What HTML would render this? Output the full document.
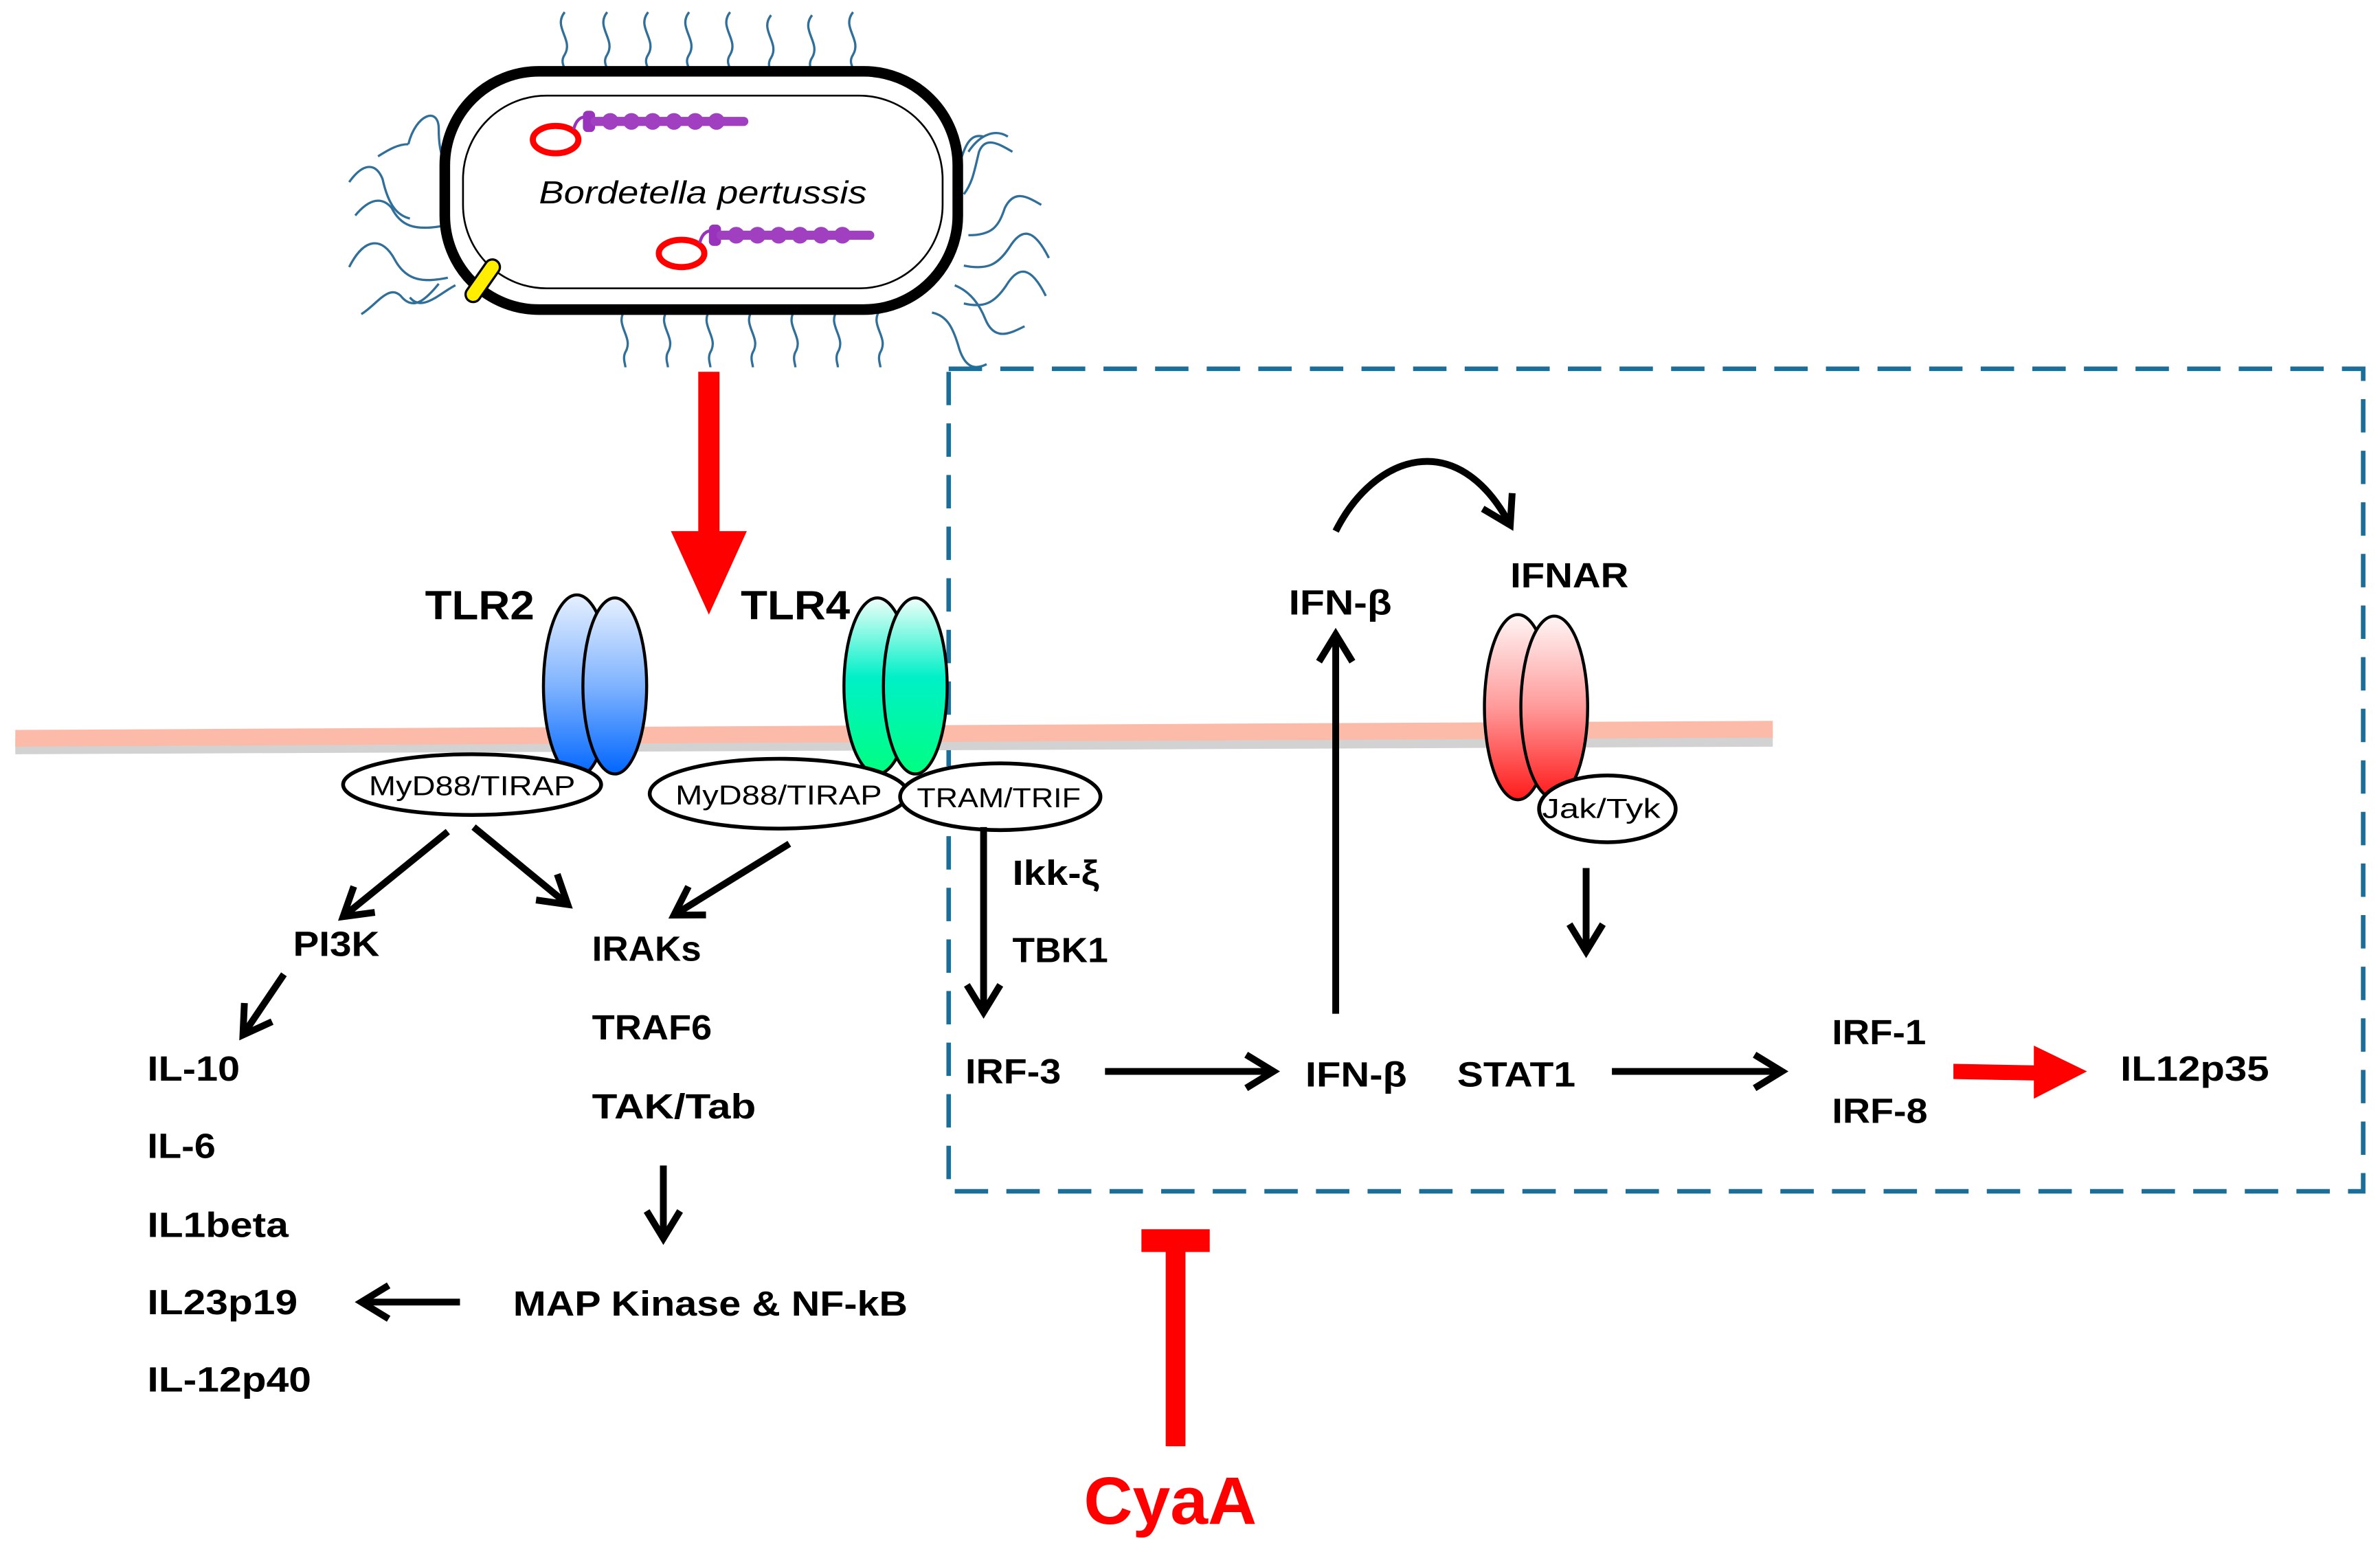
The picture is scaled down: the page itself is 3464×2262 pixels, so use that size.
<!DOCTYPE html>
<html><head><meta charset="utf-8"><style>
html,body{margin:0;padding:0;background:#fff;}
svg{display:block;}
text{font-family:"Liberation Sans",sans-serif;font-weight:bold;fill:#000;}
</style></head><body>
<svg width="3464" height="2262" viewBox="0 0 1568 1024" xmlns="http://www.w3.org/2000/svg">
<defs>
<linearGradient id="gb" x1="0" y1="0" x2="0" y2="1"><stop offset="0" stop-color="#e6f0ff"/><stop offset="0.5" stop-color="#7fb3ff"/><stop offset="1" stop-color="#0066ff"/></linearGradient>
<linearGradient id="gg" x1="0" y1="0" x2="0" y2="1"><stop offset="0" stop-color="#f0fffa"/><stop offset="0.45" stop-color="#00f0c8"/><stop offset="1" stop-color="#00ff80"/></linearGradient>
<linearGradient id="gr" x1="0" y1="0" x2="0" y2="1"><stop offset="0" stop-color="#fff5f5"/><stop offset="0.5" stop-color="#ff9a9a"/><stop offset="1" stop-color="#ff1a1a"/></linearGradient>
<marker id="ah" viewBox="0 0 20 20" refX="16" refY="10" markerWidth="20" markerHeight="20" markerUnits="userSpaceOnUse" orient="auto" overflow="visible">
<polyline points="-2,-1 16,10 -2,21" fill="none" stroke="#000" stroke-width="4.5"/>
</marker>
</defs>

<!-- flagella -->
<g fill="none" stroke="#2f6f9a" stroke-width="1.5">
<path d="M372 8 c-8 10 6 18 0 28 c-4 6 2 10 0 12"/>
<path d="M400 8 c-8 10 6 18 0 28 c-4 6 2 10 0 12"/>
<path d="M427 8 c-8 10 6 18 0 28 c-4 6 2 10 0 12"/>
<path d="M454 8 c-8 10 6 18 0 28 c-4 6 2 10 0 12"/>
<path d="M481 8 c-8 10 6 18 0 28 c-4 6 2 10 0 12"/>
<path d="M508 10 c-8 10 6 18 0 28 c-4 6 2 10 0 10"/>
<path d="M535 10 c-8 10 6 18 0 28 c-4 6 2 10 0 10"/>
<path d="M562 8 c-8 10 6 18 0 28 c-4 6 2 10 0 12"/>
<path d="M412 204 c-8 10 6 18 0 28 c-2 4 0 8 0 10"/>
<path d="M440 204 c-8 10 6 18 0 28 c-2 4 0 8 0 10"/>
<path d="M468 204 c-8 10 6 18 0 28 c-2 4 0 8 0 10"/>
<path d="M496 204 c-8 10 6 18 0 28 c-2 4 0 8 0 10"/>
<path d="M524 204 c-8 10 6 18 0 28 c-2 4 0 8 0 10"/>
<path d="M552 204 c-8 10 6 18 0 28 c-2 4 0 8 0 10"/>
<path d="M580 204 c-8 10 6 18 0 28 c-2 4 0 8 0 10"/>
<path d="M269 95 c5 -20 20 -25 20 -10 c0 20 5 25 12 32 M269 95 c-8 0 -15 5 -20 8" />
<path d="M234 142 c10 -12 18 -12 24 -5 c6 12 15 15 33 12"/>
<path d="M230 176 c10 -20 22 -20 30 -5 c8 15 20 15 35 12"/>
<path d="M230 120 c10 -14 18 -12 22 -2 c4 18 10 24 18 26"/>
<path d="M238 207 c10 -6 18 -20 26 -12 c8 10 16 3 25 -8"/>
<path d="M300 188 c-10 5 -22 18 -30 8"/>
<path d="M638 100 c8 -12 18 -15 26 -10 M630 118 c5 -25 10 -30 18 -28"/>
<path d="M667 100 c-10 -6 -18 -10 -22 0 c-3 12 -4 20 -10 28"/>
<path d="M686 135 c-10 -6 -18 -10 -24 2 c-4 12 -8 18 -24 18"/>
<path d="M691 170 c-10 -20 -18 -20 -26 -7 c-8 12 -15 15 -30 12"/>
<path d="M689 195 c-10 -20 -18 -20 -26 -7 c-8 12 -15 15 -28 12"/>
<path d="M675 215 c-10 5 -20 10 -26 -5 c-4 -10 -10 -18 -20 -22"/>
<path d="M650 240 c-8 4 -14 2 -18 -10 c-4 -14 -8 -22 -18 -24"/>
</g>

<!-- bacterium body -->
<rect x="293" y="47" width="338" height="157" rx="62" ry="62" fill="#fff" stroke="#000" stroke-width="7"/>
<rect x="305" y="63" width="316" height="127" rx="55" ry="55" fill="none" stroke="#000" stroke-width="1.2"/>
<g transform="rotate(-55 318 185)"><rect x="302" y="180" width="32" height="10" rx="5" fill="#ffee00" stroke="#000" stroke-width="1.5"/></g>
<!-- toxins -->
<g>
<ellipse cx="366" cy="92" rx="15" ry="9" fill="#fff" stroke="#f00" stroke-width="4"/>
<path d="M378 85 q2 -8 8 -8" fill="none" stroke="#9933bb" stroke-width="2"/>
<rect x="384" y="73" width="8" height="14" rx="3" fill="#9933bb"/>
<path d="M392 80 h98" stroke="#a040c0" stroke-width="6" stroke-linecap="round"/>
<g fill="#a040c0"><circle cx="402" cy="80" r="5.5"/><circle cx="416" cy="80" r="5.5"/><circle cx="430" cy="80" r="5.5"/><circle cx="444" cy="80" r="5.5"/><circle cx="458" cy="80" r="5.5"/><circle cx="472" cy="80" r="5.5"/></g>
<ellipse cx="449" cy="167" rx="15" ry="9" fill="#fff" stroke="#f00" stroke-width="4"/>
<path d="M461 160 q2 -8 8 -8" fill="none" stroke="#9933bb" stroke-width="2"/>
<rect x="467" y="148" width="8" height="14" rx="3" fill="#9933bb"/>
<path d="M475 155 h98" stroke="#a040c0" stroke-width="6" stroke-linecap="round"/>
<g fill="#a040c0"><circle cx="485" cy="155" r="5.5"/><circle cx="499" cy="155" r="5.5"/><circle cx="513" cy="155" r="5.5"/><circle cx="527" cy="155" r="5.5"/><circle cx="541" cy="155" r="5.5"/><circle cx="555" cy="155" r="5.5"/></g>
</g>
<text x="463" y="134" text-anchor="middle" font-size="21" style="font-weight:normal;font-style:italic" textLength="216" lengthAdjust="spacingAndGlyphs">Bordetella pertussis</text>

<!-- red arrow down -->
<rect x="460" y="245" width="14" height="110" fill="#f00"/>
<polygon points="442,350 492,350 467,405" fill="#f00"/>

<!-- dashed box -->
<rect x="625" y="243" width="932" height="542" fill="none" stroke="#1a6e9a" stroke-width="3" stroke-dasharray="22 12"/>

<!-- membrane -->
<polygon points="10,487 1168,482 1168,492 10,497" fill="#d2d2d2"/>
<polygon points="10,481 1168,475 1168,486 10,492" fill="#fbbba8"/>

<!-- receptors -->
<ellipse cx="380" cy="452" rx="22" ry="60" fill="url(#gb)" stroke="#000" stroke-width="2"/>
<ellipse cx="405" cy="452" rx="21" ry="58" fill="url(#gb)" stroke="#000" stroke-width="2"/>
<ellipse cx="578" cy="452" rx="22" ry="58" fill="url(#gg)" stroke="#000" stroke-width="2"/>
<ellipse cx="603" cy="452" rx="21" ry="58" fill="url(#gg)" stroke="#000" stroke-width="2"/>
<ellipse cx="1000" cy="466" rx="22" ry="61" fill="url(#gr)" stroke="#000" stroke-width="2"/>
<ellipse cx="1024" cy="466" rx="22" ry="60" fill="url(#gr)" stroke="#000" stroke-width="2"/>

<text x="280" y="408" font-size="27" textLength="72" lengthAdjust="spacingAndGlyphs">TLR2</text>
<text x="488" y="408" font-size="27" textLength="72" lengthAdjust="spacingAndGlyphs">TLR4</text>

<!-- adaptor ellipses -->
<g stroke="#000" stroke-width="2.5" fill="#fff">
<ellipse cx="311" cy="517" rx="85" ry="20"/>
<ellipse cx="513" cy="523" rx="85" ry="23"/>
<ellipse cx="659" cy="525" rx="66" ry="22"/>
<ellipse cx="1059" cy="533" rx="45" ry="22"/>
</g>
<g font-size="18">
<text x="311" y="524" text-anchor="middle" style="font-weight:normal" textLength="136" lengthAdjust="spacingAndGlyphs">MyD88/TIRAP</text>
<text x="513" y="530" text-anchor="middle" style="font-weight:normal" textLength="136" lengthAdjust="spacingAndGlyphs">MyD88/TIRAP</text>
<text x="658" y="532" text-anchor="middle" style="font-weight:normal" textLength="108" lengthAdjust="spacingAndGlyphs">TRAM/TRIF</text>
<text x="1055" y="539" text-anchor="middle" style="font-weight:normal" textLength="78" lengthAdjust="spacingAndGlyphs">Jak/Tyk</text>
</g>

<!-- labels -->
<g font-size="23">
<text x="193" y="630" textLength="57" lengthAdjust="spacingAndGlyphs">PI3K</text>
<text x="390" y="633" textLength="72" lengthAdjust="spacingAndGlyphs">IRAKs</text>
<text x="390" y="685" textLength="79" lengthAdjust="spacingAndGlyphs">TRAF6</text>
<text x="390" y="737" textLength="108" lengthAdjust="spacingAndGlyphs">TAK/Tab</text>
<text x="97" y="712" textLength="61" lengthAdjust="spacingAndGlyphs">IL-10</text>
<text x="97" y="763" textLength="45" lengthAdjust="spacingAndGlyphs">IL-6</text>
<text x="97" y="815" textLength="93" lengthAdjust="spacingAndGlyphs">IL1beta</text>
<text x="97" y="866" textLength="99" lengthAdjust="spacingAndGlyphs">IL23p19</text>
<text x="97" y="917" textLength="108" lengthAdjust="spacingAndGlyphs">IL-12p40</text>
<text x="338" y="867" textLength="260" lengthAdjust="spacingAndGlyphs">MAP Kinase &amp; NF-kB</text>
<text x="667" y="583" textLength="57" lengthAdjust="spacingAndGlyphs">Ikk-ξ</text>
<text x="667" y="634" textLength="63" lengthAdjust="spacingAndGlyphs">TBK1</text>
<text x="636" y="714" textLength="63" lengthAdjust="spacingAndGlyphs">IRF-3</text>
<text x="860" y="716" textLength="67" lengthAdjust="spacingAndGlyphs">IFN-β</text>
<text x="960" y="716" textLength="78" lengthAdjust="spacingAndGlyphs">STAT1</text>
<text x="1207" y="688" textLength="62" lengthAdjust="spacingAndGlyphs">IRF-1</text>
<text x="1207" y="740" textLength="63" lengthAdjust="spacingAndGlyphs">IRF-8</text>
<text x="1397" y="712" textLength="98" lengthAdjust="spacingAndGlyphs">IL12p35</text>
<text x="849" y="405" textLength="68" lengthAdjust="spacingAndGlyphs">IFN-β</text>
<text x="995" y="387" textLength="78" lengthAdjust="spacingAndGlyphs">IFNAR</text>
</g>

<!-- arrows -->
<g stroke="#000" stroke-width="4.5" fill="none" marker-end="url(#ah)">
<line x1="295" y1="548" x2="226" y2="604"/>
<line x1="312" y1="545" x2="374" y2="596"/>
<line x1="520" y1="556" x2="444" y2="603"/>
<line x1="187" y1="642" x2="160" y2="682"/>
<line x1="648" y1="545" x2="648" y2="667"/>
<line x1="437" y1="768" x2="437" y2="816"/>
<line x1="303" y1="858" x2="238" y2="858"/>
<line x1="728" y1="706" x2="839" y2="706"/>
<line x1="880" y1="668" x2="880" y2="418"/>
<line x1="1045" y1="572" x2="1045" y2="627"/>
<line x1="1062" y1="706" x2="1174" y2="706"/>
<path d="M880 350 C 905 300 960 280 995 346"/>
</g>

<!-- red arrow right -->
<polygon points="1287,701 1340,702 1340,689 1375,706 1340,724 1340,712 1287,711" fill="#f00"/>

<!-- CyaA inhibitor -->
<rect x="768" y="820" width="13" height="133" fill="#f00"/>
<rect x="752" y="810" width="45" height="15" fill="#f00"/>
<text x="771" y="1004" text-anchor="middle" font-size="44" style="fill:#f00" textLength="114" lengthAdjust="spacingAndGlyphs">CyaA</text>
</svg>
</body></html>
